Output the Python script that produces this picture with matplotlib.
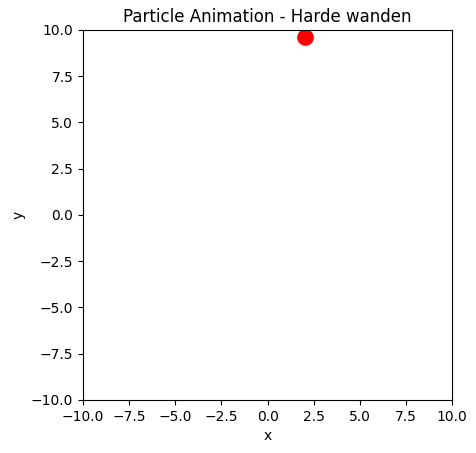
import matplotlib
matplotlib.use("Agg")
import matplotlib.pyplot as plt

# particle position in the frame shown
x_pos = [2.0]
y_pos = [9.6]

fig = plt.figure(figsize=(4.77, 4.53), dpi=100)
ax = fig.add_axes([0.174, 0.117, 0.774, 0.817])
ax.plot(x_pos, y_pos, 'o', color='red', markersize=11)
ax.set_xlim(-10, 10)
ax.set_ylim(-10, 10)
ax.set_xlabel('x')
ax.set_ylabel('y')
ax.set_title('Particle Animation - Harde wanden')
fig.savefig('out.png', dpi=100)
